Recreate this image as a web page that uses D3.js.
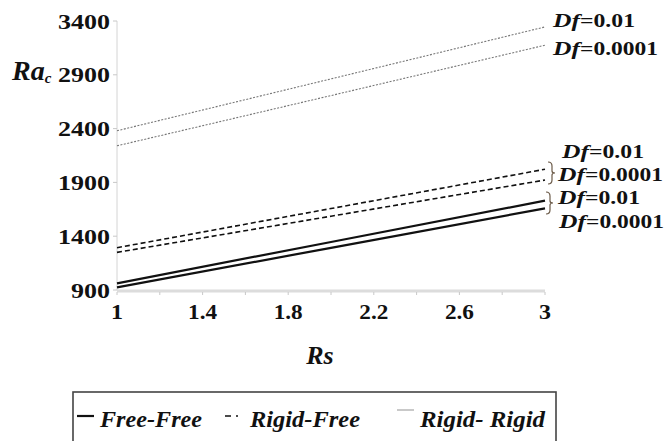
<!DOCTYPE html>
<html>
<head>
<meta charset="utf-8">
<script src="https://cdn.jsdelivr.net/npm/d3@7"></script>
<style>
body { margin: 0; background: #fff; }
svg { display: block; }
text { font-family: "Liberation Serif", "Times New Roman", Times, serif; font-weight: bold; fill: #111; }
</style>
</head>
<body>
<div id="d3"></div>
<script>
// data
var rsValues = [1, 2, 3];
var freeFree001 = [962, 1346, 1730];
var freeFree00001 = [925, 1292, 1659];
var rigidFree001 = [1293, 1657, 2022];
var rigidFree00001 = [1250, 1586, 1922];
var rigidRigid001 = [2380, 2862, 3345];
var rigidRigid00001 = [2240, 2707, 3175];
var xTicks = [1, 1.4, 1.8, 2.2, 2.6, 3];
var yTicks = [900, 1400, 1900, 2400, 2900, 3400];

var svg = d3.select("#d3").append("svg")
        .attr("width", 665)
        .attr("height", 441);

var x = d3.scaleLinear().domain([1, 3]).range([117, 545]);
var y = d3.scaleLinear().domain([900, 3400]).range([290, 21]);

// rough width of a bold number label
function numWidth(s) {
    s = String(s);
    return s.replace(".", "").length * 12 + (s.indexOf(".") >= 0 ? 5 : 0);
}

// axes
svg.append("line")
        .attr("x1", x(1)).attr("x2", x(1))
        .attr("y1", y(3400)).attr("y2", y(900))
        .attr("stroke", "#d4d4d4").attr("stroke-width", 1);

svg.append("line")
        .attr("x1", x(1)).attr("x2", x(3))
        .attr("y1", y(900) + 1).attr("y2", y(900) + 1)
        .attr("stroke", "#dcdcdc").attr("stroke-width", 3);

svg.selectAll(".ytick")
        .data(yTicks).enter()
        .append("line")
        .attr("x1", x(1) - 4).attr("x2", x(1))
        .attr("y1", function(d) { return y(d); })
        .attr("y2", function(d) { return y(d); })
        .attr("stroke", "#c8c8c8");

svg.selectAll(".xtick")
        .data(d3.range(1, 3.01, 0.2)).enter()
        .append("line")
        .attr("x1", function(d) { return x(d); })
        .attr("x2", function(d) { return x(d); })
        .attr("y1", y(900) + 2).attr("y2", y(900) + 5)
        .attr("stroke", "#c8c8c8");

svg.selectAll(".ylab")
        .data(yTicks).enter()
        .append("text")
        .attr("x", 110)
        .attr("y", function(d) { return y(d) + 7.5; })
        .attr("text-anchor", "end")
        .attr("font-size", "22px")
        .attr("textLength", function(d) { return String(d).length * 13; })
        .attr("lengthAdjust", "spacingAndGlyphs")
        .text(function(d) { return d; });

svg.selectAll(".xlab")
        .data(xTicks).enter()
        .append("text")
        .attr("x", function(d) { return x(d); })
        .attr("y", 319)
        .attr("text-anchor", "middle")
        .attr("font-size", "22px")
        .attr("textLength", function(d) { return numWidth(d); })
        .attr("lengthAdjust", "spacingAndGlyphs")
        .text(function(d) { return d; });

// axis titles
var ra = svg.append("text")
        .attr("x", 12).attr("y", 80)
        .attr("font-size", "28px")
        .attr("font-style", "italic");
ra.append("tspan").text("Ra");
ra.append("tspan").attr("font-size", "15px").attr("dy", 3).text("c");

svg.append("text")
        .attr("x", 320).attr("y", 364)
        .attr("text-anchor", "middle")
        .attr("font-size", "26px")
        .attr("font-style", "italic")
        .text("Rs");

// series
var series = [
    {vals: rigidRigid001, kind: "rr"},
    {vals: rigidRigid00001, kind: "rr"},
    {vals: rigidFree001, kind: "rf"},
    {vals: rigidFree00001, kind: "rf"},
    {vals: freeFree001, kind: "ff"},
    {vals: freeFree00001, kind: "ff"}
];

var line = d3.line()
        .x(function(d, i) { return x(rsValues[i]); })
        .y(function(d) { return y(d); });

svg.selectAll(".series")
        .data(series).enter()
        .append("path")
        .attr("d", function(d) { return line(d.vals); })
        .attr("fill", "none")
        .attr("stroke", function(d) { return d.kind === "rr" ? "#777" : "#111"; })
        .attr("stroke-width", function(d) { return d.kind === "ff" ? 2.2 : (d.kind === "rf" ? 1.6 : 1.1); })
        .attr("stroke-dasharray", function(d) {
            return d.kind === "rf" ? "5,3" : (d.kind === "rr" ? "2,1.5" : null);
        });

// right-hand labels
var labels = [
    {x: 553, y: 27, t: "0.01"},
    {x: 553, y: 55, t: "0.0001"},
    {x: 562, y: 158, t: "0.01"},
    {x: 558, y: 181, t: "0.0001"},
    {x: 558, y: 204, t: "0.01"},
    {x: 559, y: 228, t: "0.0001"}
];

var lab = svg.selectAll(".dflab")
        .data(labels).enter()
        .append("text")
        .attr("x", function(d) { return d.x; })
        .attr("y", function(d) { return d.y; })
        .attr("font-size", "19px");
lab.append("tspan")
        .attr("font-style", "italic")
        .attr("textLength", 27)
        .attr("lengthAdjust", "spacingAndGlyphs")
        .text("Df");
lab.append("tspan")
        .attr("textLength", function(d) { return d.t.length === 4 ? 55 : 78; })
        .attr("lengthAdjust", "spacingAndGlyphs")
        .text(function(d) { return "=" + d.t; });

// braces
function brace(x0, y0, y1) {
    var m = (y0 + y1) / 2;
    return "M" + x0 + "," + y0 + " q4,0 4,4 v" + (m - y0 - 6) + " q0,2 3,2 q-3,0 -3,2 v" + (y1 - m - 6) + " q0,4 -4,4";
}
svg.append("path").attr("d", brace(548, 162, 184))
        .attr("fill", "none").attr("stroke", "#6b5a48").attr("stroke-width", 1.2);
svg.append("path").attr("d", brace(546, 192, 214))
        .attr("fill", "none").attr("stroke", "#6b5a48").attr("stroke-width", 1.2);

// legend
svg.append("rect")
        .attr("x", 73).attr("y", 392)
        .attr("width", 483).attr("height", 80)
        .attr("fill", "none")
        .attr("stroke", "#444").attr("stroke-width", 1.6);

var legend = [
    {name: "Free-Free", x: 77, w: 102, kind: "ff"},
    {name: "Rigid-Free", x: 225, w: 110, kind: "rf"},
    {name: "Rigid- Rigid", x: 397, w: 125, kind: "rr"}
];

var lg = svg.selectAll(".leg")
        .data(legend).enter()
        .append("g");

lg.append("line")
        .attr("x1", function(d) { return d.x; })
        .attr("x2", function(d) { return d.x + (d.kind === "rf" ? 14 : 17); })
        .attr("y1", function(d) { return d.kind === "rr" ? 410 : 416; })
        .attr("y2", function(d) { return d.kind === "rr" ? 410 : 416; })
        .attr("stroke", function(d) { return d.kind === "rr" ? "#bbb" : "#111"; })
        .attr("stroke-width", function(d) { return d.kind === "ff" ? 2.2 : 1.6; })
        .attr("stroke-dasharray", function(d) { return d.kind === "rf" ? "6,5,2,10" : null; });

lg.append("text")
        .attr("x", function(d) { return d.x + (d.kind === "rf" ? 25 : 23); })
        .attr("y", 427)
        .attr("font-size", "23px")
        .attr("font-style", "italic")
        .attr("textLength", function(d) { return d.w; })
        .attr("lengthAdjust", "spacingAndGlyphs")
        .text(function(d) { return d.name; });
</script>
</body>
</html>
